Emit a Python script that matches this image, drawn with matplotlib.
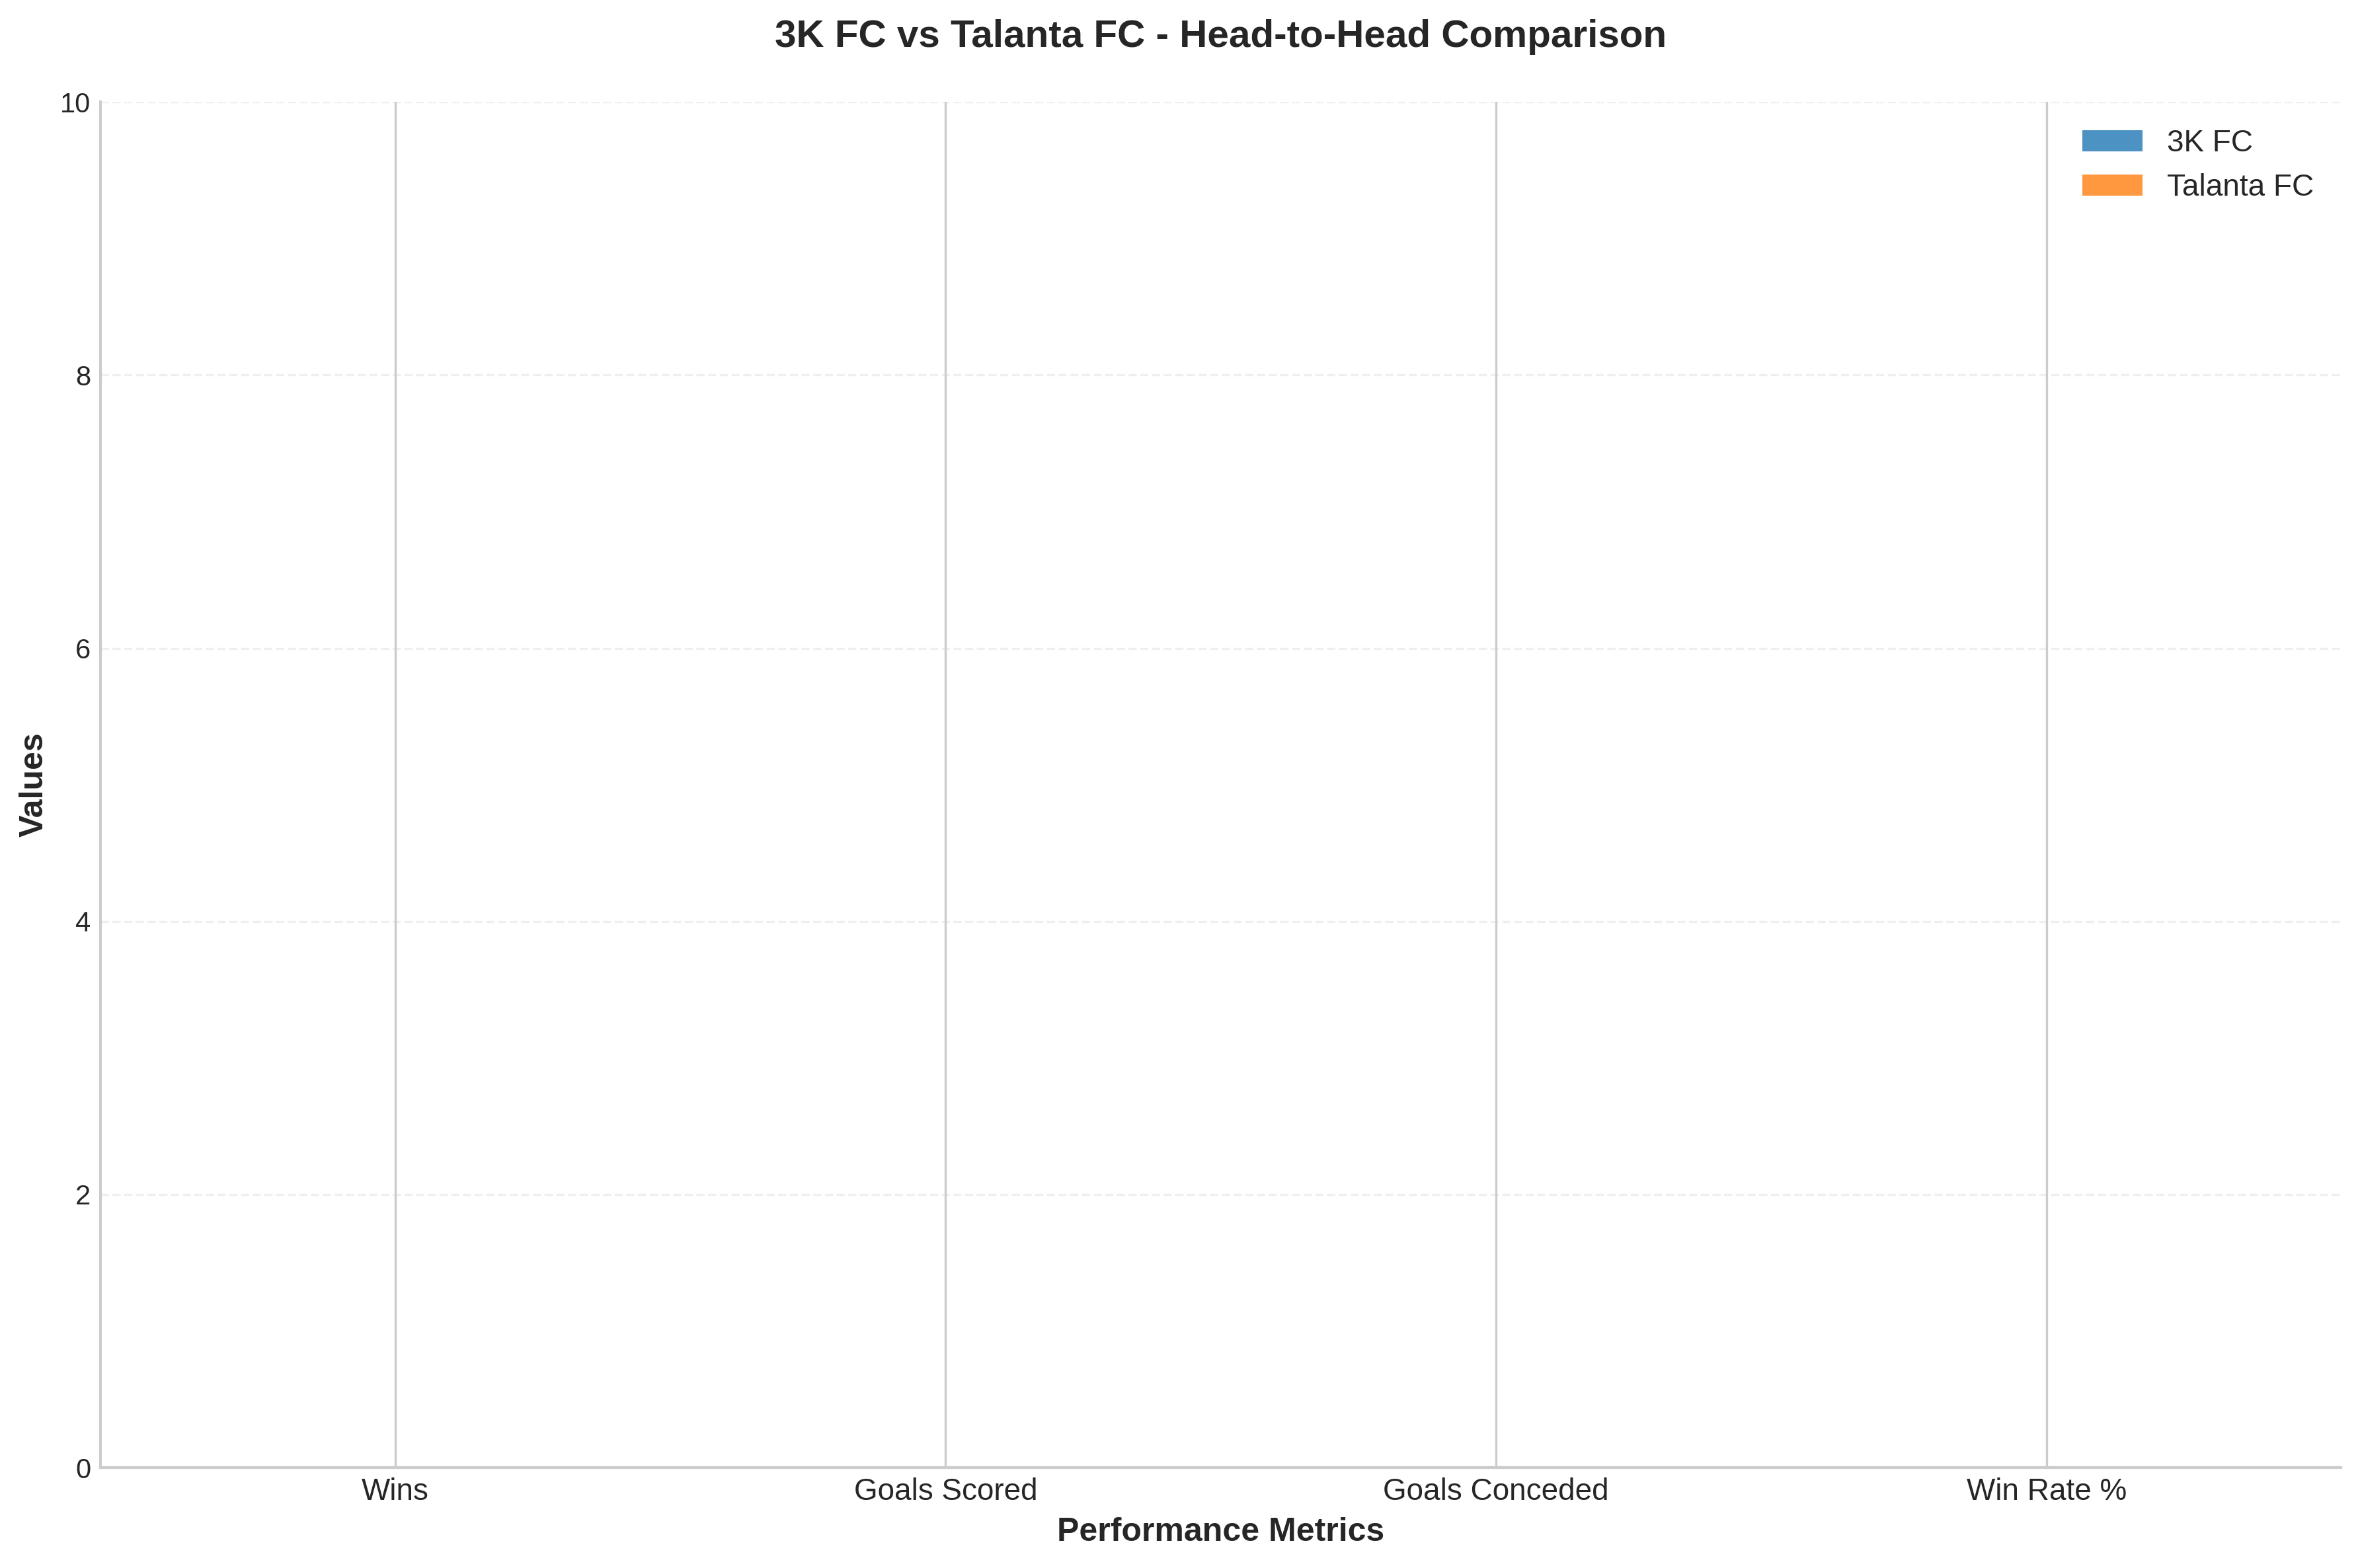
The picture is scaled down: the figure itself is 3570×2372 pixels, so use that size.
import numpy as np
import matplotlib
matplotlib.use("Agg")
import matplotlib.pyplot as plt

# DATA
metrics = ['Wins', 'Goals Scored', 'Goals Conceded', 'Win Rate %']
team_a = '3K FC'
team_b = 'Talanta FC'
team_a_values = [0, 0, 0, 0]
team_b_values = [0, 0, 0, 0]
y_ticks = [0, 2, 4, 6, 8, 10]

plt.style.use('seaborn-v0_8-whitegrid')
plt.rcParams['font.family'] = ['Liberation Sans', 'DejaVu Sans']

fig = plt.figure(figsize=(11.9, 7.9067), dpi=300)
ax = fig.add_axes([0.0426, 0.064, 0.9494, 0.871])

x = np.arange(len(metrics))
width = 0.35

ax.bar(x - width / 2, team_a_values, width, label=team_a, color='#1f77b4', alpha=0.8)
ax.bar(x + width / 2, team_b_values, width, label=team_b, color='#ff7f0e', alpha=0.8)

ax.set_xticks(x)
ax.set_xticklabels(metrics, fontsize=11)
ax.set_yticks(y_ticks)
ax.tick_params(axis='y', labelsize=10)
ax.set_ylim(0, 10)

ax.set_xlabel('Performance Metrics', fontsize=12, fontweight='bold')
ax.set_ylabel('Values', fontsize=12, fontweight='bold')
ax.set_title('3K FC vs Talanta FC - Head-to-Head Comparison',
             fontsize=14, fontweight='bold', pad=20)

ax.grid(axis='y', alpha=0.3, linestyle='--')
ax.spines['top'].set_visible(False)
ax.spines['right'].set_visible(False)

ax.legend(fontsize=11, loc='upper right')

plt.savefig('out.png', dpi=300)
